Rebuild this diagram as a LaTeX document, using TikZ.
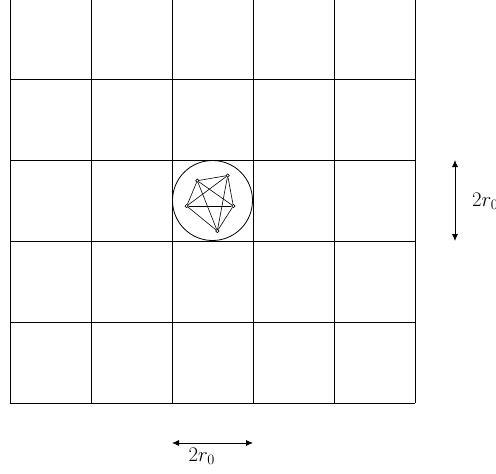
\documentclass[tikz,border=0pt]{standalone}
\usetikzlibrary{arrows.meta}
\begin{document}
\begin{tikzpicture}[x=1pt,y=-1pt,
  gridline/.style={line width=0.8pt},
  vtx/.style={circle,draw,inner sep=0pt,minimum size=3.2pt,line width=0.5pt,fill=white},
  edge/.style={line width=0.6pt},
  dimarrow/.style={line width=0.8pt,{Latex[length=7pt,width=6pt]}-{Latex[length=7pt,width=6pt]}},
  lbl/.style={font=\fontsize{20.5}{24}\selectfont,inner sep=0pt}]
\useasboundingbox (0,0) rectangle (496,474);
\clip (0,0) rectangle (496,474);
% grid
\foreach \x in {10,91,172,253,334,415}
  \draw[gridline] (\x,-5) -- (\x,403);
\foreach \y in {79,160,241,322,403}
  \draw[gridline] (10,\y) -- (415,\y);
% circle
\node[circle,draw,line width=0.8pt,minimum size=80pt,inner sep=0pt] (ring) at (212.5,200.5) {};
% vertices
\node[vtx] (a) at (197.3,180.7) {};
\node[vtx] (b) at (227.7,175.5) {};
\node[vtx] (c) at (186.7,206) {};
\node[vtx] (d) at (233.3,206) {};
\node[vtx] (e) at (217.3,231) {};
\foreach \u/\v in {a/b,a/c,a/d,a/e,b/c,b/d,b/e,c/d,c/e,d/e}
  \draw[edge] (\u) -- (\v);
\foreach \n in {a,b,c,d,e}
  \node[vtx] at (\n) {};
% dimension arrows
\coordinate (vt) at (455,160);
\coordinate (vb) at (455,241);
\draw[dimarrow] (vt) -- (vb);
\node[lbl,anchor=base west] (vl) at (472,206.5) {$2r_0$};
\coordinate (hl) at (172,443);
\coordinate (hr) at (253,443);
\draw[dimarrow] (hl) -- (hr);
\node[lbl,anchor=base west] (hlab) at (188.5,461) {$2r_0$};
\end{tikzpicture}
\end{document}
